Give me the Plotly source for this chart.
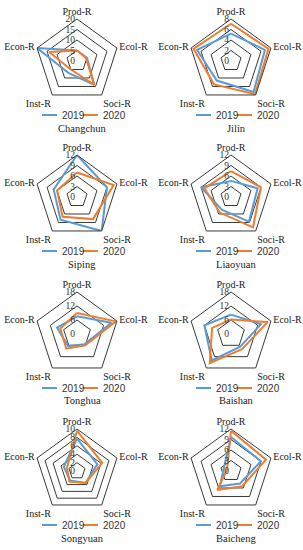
import plotly.graph_objects as go

W, H = 303, 550

categories = ["Prod-R", "Ecol-R", "Soci-R", "Inst-R", "Econ-R"]
cities = ["Changchun", "Jilin", "Siping", "Liaoyuan",
          "Tonghua", "Baishan", "Songyuan", "Baicheng"]

changchun_2019 = [5, 5, 14, 7, 20]
changchun_2020 = [5, 4.5, 14, 5, 14]
jilin_2019 = [5.2, 6.8, 7.3, 4.6, 6.8]
jilin_2020 = [7.1, 7.5, 7.8, 5.5, 7.5]
siping_2019 = [12, 9, 12, 8, 7]
siping_2020 = [7, 11, 7.8, 7, 6]
liaoyuan_2019 = [4.6, 8, 8.7, 4.5, 9]
liaoyuan_2020 = [7.4, 9, 10.7, 5.5, 8]
tonghua_2019 = [7.6, 15.5, 5.4, 6.4, 9]
tonghua_2020 = [9, 17.5, 6, 7.8, 7.5]
baishan_2019 = [8.3, 13.5, 6.7, 14, 12]
baishan_2020 = [6.2, 16.5, 8, 15.5, 8.5]
songyuan_2019 = [7.7, 5.1, 3.5, 2.8, 3.3]
songyuan_2020 = [9.6, 6.3, 3.5, 3.1, 2.5]
baicheng_2019 = [9.7, 9, 4.4, 5.4, 2.2]
baicheng_2020 = [11.5, 10.5, 5.4, 6.7, 1.2]

series_2019 = [changchun_2019, jilin_2019, siping_2019, liaoyuan_2019,
               tonghua_2019, baishan_2019, songyuan_2019, baicheng_2019]
series_2020 = [changchun_2020, jilin_2020, siping_2020, liaoyuan_2020,
               tonghua_2020, baishan_2020, songyuan_2020, baicheng_2020]
r_max = [20, 8, 12, 12, 18, 18, 10, 12]
r_step = [5, 2, 3, 3, 6, 6, 2, 3]
years = ["2019", "2020"]

BLUE = "#5B9BD5"
ORANGE = "#ED7D31"
GRID = "#3a3a3a"
SERIF = "Liberation Serif, Times New Roman, serif"

col_cx = [77, 231]
row_cy = [61, 197, 334, 471]
R = 42

fig = go.Figure()
shapes = []
annotations = []

def close(v):
    return list(v) + [v[0]]

for i, city in enumerate(cities):
    row, col = divmod(i, 2)
    cx, cy = col_cx[col], row_cy[row]
    pid = "polar" if i == 0 else f"polar{i+1}"
    for vals, color, yr in ((series_2019[i], BLUE, years[0]), (series_2020[i], ORANGE, years[1])):
        fig.add_trace(go.Scatterpolar(
            r=close(vals), theta=close(categories), mode="lines",
            line=dict(color=color, width=2), name=yr, showlegend=False,
            hoverinfo="skip", subplot=pid))
    fig.layout[pid] = dict(
        domain=dict(x=[(cx - R) / W, (cx + R) / W],
                    y=[(H - cy - R) / H, (H - cy + R) / H]),
        gridshape="linear", bgcolor="white",
        angularaxis=dict(rotation=90, direction="clockwise", showgrid=False,
                         showline=True, linecolor=GRID, linewidth=1, ticks="",
                         tickfont=dict(family=SERIF, size=10, color="#222")),
        radialaxis=dict(range=[0, r_max[i]], dtick=r_step[i], tick0=0,
                        showline=False, gridcolor=GRID, gridwidth=1, ticks="",
                        angle=90, tickangle=90, side="counterclockwise",
                        tickfont=dict(family=SERIF, size=9.5, color="#333")),
    )
    # legend
    ly = cy + 54
    lx = cx + 3
    for k, (color, yr) in enumerate(((BLUE, years[0]), (ORANGE, years[1]))):
        x0 = lx - 38 + k * 41
        shapes.append(dict(type="line", xref="paper", yref="paper",
                           x0=x0 / W, x1=(x0 + 15) / W,
                           y0=(H - ly) / H, y1=(H - ly) / H,
                           line=dict(color=color, width=2)))
        annotations.append(dict(x=(x0 + 18) / W, y=(H - ly) / H, xref="paper", yref="paper",
                                text=yr, showarrow=False, xanchor="left", yanchor="middle",
                                font=dict(family="Liberation Sans, Arial, sans-serif", size=10, color="#333")))
    annotations.append(dict(x=(cx + 5) / W, y=(H - cy - 67) / H, xref="paper", yref="paper",
                            text=city, showarrow=False, xanchor="center", yanchor="middle",
                            font=dict(family=SERIF, size=10.5, color="#222")))

fig.update_layout(width=W, height=H, margin=dict(l=0, r=0, t=0, b=0),
                  paper_bgcolor="white", plot_bgcolor="white",
                  shapes=shapes, annotations=annotations, showlegend=False)
fig.write_html("out.html", config={"displayModeBar": False},
               post_script="document.body.style.margin='0';")
